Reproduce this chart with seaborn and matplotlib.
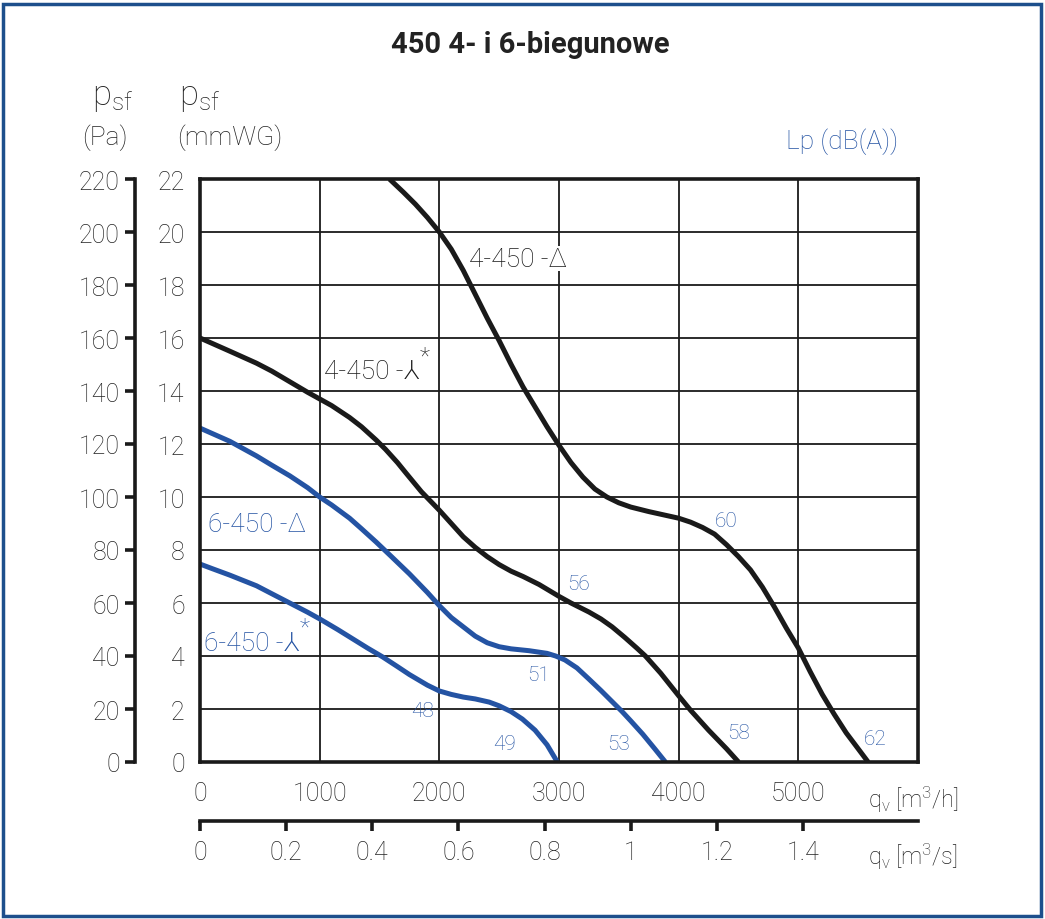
import matplotlib
matplotlib.use("Agg")
import matplotlib.pyplot as plt
import seaborn as sns
from matplotlib.patches import Rectangle

# pressure curves: flow q [m3/h], static pressure p [mmWG]
q_4d = [1583, 1700, 1800, 1900, 2000, 2100, 2200, 2300, 2400, 2500, 2600, 2700,
        2800, 2900, 3000, 3100, 3200, 3300, 3400, 3500, 3600, 3750, 3900, 4000,
        4100, 4200, 4300, 4400, 4500, 4600, 4700, 4800, 4900, 5000, 5100, 5200,
        5300, 5400, 5500, 5583]
p_4d = [22.0, 21.5, 21.05, 20.55, 20.0, 19.35, 18.55, 17.65, 16.75, 15.9, 15.0, 14.15,
        13.4, 12.65, 11.95, 11.3, 10.75, 10.3, 10.0, 9.78, 9.62, 9.45, 9.3, 9.2,
        9.05, 8.85, 8.6, 8.2, 7.75, 7.25, 6.6, 5.85, 5.05, 4.3, 3.4, 2.55,
        1.8, 1.1, 0.5, 0.0]

q_4y = [0, 100, 250, 472, 600, 750, 900, 1000, 1100, 1250, 1350, 1472, 1550, 1650,
        1722, 1850, 2000, 2100, 2200, 2300, 2400, 2500, 2600, 2700, 2833, 3000,
        3100, 3250, 3350, 3444, 3550, 3650, 3722, 3850, 4000, 4100, 4250, 4400, 4500]
p_4y = [16.0, 15.8, 15.5, 15.05, 14.75, 14.35, 13.95, 13.7, 13.45, 13.0, 12.65,
        12.15, 11.8, 11.3, 10.9, 10.2, 9.5, 9.0, 8.5, 8.1, 7.75, 7.45, 7.2, 7.0,
        6.7, 6.25, 6.0, 5.66, 5.4, 5.1, 4.7, 4.3, 4.0, 3.35, 2.5, 1.95, 1.2, 0.5, 0.0]

q_6d = [0, 100, 250, 472, 600, 750, 900, 1000, 1100, 1250, 1350, 1472, 1600, 1750,
        1900, 2000, 2100, 2200, 2300, 2400, 2500, 2600, 2750, 2900, 2972, 3050,
        3150, 3250, 3350, 3450, 3528, 3600, 3700, 3800, 3889]
p_6d = [12.6, 12.4, 12.1, 11.55, 11.2, 10.8, 10.35, 10.0, 9.7, 9.2, 8.8, 8.3, 7.75,
        7.1, 6.4, 5.9, 5.45, 5.1, 4.75, 4.5, 4.35, 4.27, 4.2, 4.1, 4.0, 3.85,
        3.55, 3.13, 2.7, 2.25, 1.9, 1.55, 1.05, 0.5, 0.0]

q_6y = [0, 100, 250, 472, 600, 750, 900, 1000, 1150, 1250, 1400, 1528, 1650, 1750,
        1900, 2000, 2100, 2200, 2300, 2417, 2500, 2600, 2694, 2800, 2900, 2986]
p_6y = [7.47, 7.3, 7.05, 6.65, 6.35, 6.0, 5.65, 5.4, 5.0, 4.72, 4.3, 3.96, 3.6, 3.3,
        2.9, 2.68, 2.55, 2.45, 2.38, 2.26, 2.12, 1.9, 1.62, 1.2, 0.65, 0.0]

# sound level labels Lp dB(A)
lp_text = ["60", "56", "51", "48", "49", "53", "58", "62"]
lp_q = [4400, 3167, 2833, 1858, 2542, 3500, 4500, 5642]
lp_p = [9.1, 6.75, 3.3, 1.96, 0.68, 0.68, 1.13, 0.9]

curve_names = ["4-450 -\u0394", "4-450 -\u2144", "6-450 -\u0394", "6-450 -\u2144"]
curve_star = [False, True, False, True]
name_q = [2250, 1035, 67, 30]
name_p = [19.0, 14.75, 8.98, 4.5]

x_ticks = [0, 1000, 2000, 3000, 4000, 5000]
y_ticks = list(range(0, 23, 2))
pa_ticks = list(range(0, 221, 20))
s_ticks = [0, 0.2, 0.4, 0.6, 0.8, 1, 1.2, 1.4]

BLACK = "#1a1a1a"
TXT = "#222222"
BLUE = "#2453a3"
FRAME = "#1d4f8c"

sns.set_style("white")
plt.rcParams["font.family"] = ["Roboto", "DejaVu Sans"]
plt.rcParams["font.weight"] = "light"
plt.rcParams["mathtext.fontset"] = "custom"
plt.rcParams["mathtext.rm"] = "Roboto:light"
plt.rcParams["mathtext.it"] = "Roboto:light"

fig = plt.figure(figsize=(10.45, 9.2), dpi=100)
ax = fig.add_axes([200 / 1045, 1 - 763 / 920, 718 / 1045, 583 / 920])

lw_curve = 3.6
for qs, ps, col in [(q_4d, p_4d, BLACK), (q_4y, p_4y, BLACK),
                    (q_6d, p_6d, BLUE), (q_6y, p_6y, BLUE)]:
    sns.lineplot(x=qs, y=ps, color=col, lw=lw_curve, ax=ax, sort=False,
                 solid_joinstyle="round", solid_capstyle="butt")

ax.set_xlim(0, 6000)
ax.set_ylim(0, 22)
ax.set_xticks(x_ticks)
ax.set_yticks(y_ticks)
ax.grid(True, color=BLACK, lw=1.3)
for sp in ax.spines.values():
    sp.set_visible(True)
    sp.set_linewidth(2.6)
    sp.set_color(BLACK)
ax.tick_params(axis="both", which="major", length=7, width=2.6, color=BLACK,
               labelsize=18, labelcolor=TXT, pad=4)
ax.tick_params(axis="x", pad=7)
ax.set_xlabel("")
ax.set_ylabel("")

# Pa axis on the far left
ax_pa = ax.secondary_yaxis(-0.0905, functions=(lambda v: v * 10, lambda v: v / 10))
ax_pa.set_yticks(pa_ticks)
ax_pa.spines["left"].set_linewidth(2.6)
ax_pa.spines["left"].set_color(BLACK)
ax_pa.tick_params(length=7, width=2.6, color=BLACK, labelsize=18,
                  labelcolor=TXT, pad=4)

# m3/s axis below
ax_s = ax.secondary_xaxis(-0.101, functions=(lambda v: v / 3600, lambda v: v * 3600))
ax_s.set_xticks(s_ticks)
ax_s.set_xticklabels([f"{t:g}" for t in s_ticks])
ax_s.spines["bottom"].set_linewidth(2.6)
ax_s.spines["bottom"].set_color(BLACK)
ax_s.tick_params(length=7, width=2.6, color=BLACK, labelsize=18,
                 labelcolor=TXT, pad=7)

for txt, star, qx, py, col in zip(curve_names, curve_star, name_q, name_p,
                                  [BLACK, BLACK, BLUE, BLUE]):
    t = ax.text(qx, py, txt, color=col, fontsize=19, ha="left", va="center",
                family=["Roboto", "DejaVu Sans"],
                bbox=dict(boxstyle="square,pad=0.02", fc="white", ec="none"))
    if star:
        ax.annotate("*", xy=(1, 1), xycoords=t, xytext=(0, -6),
                    textcoords="offset points", ha="left", va="bottom",
                    fontsize=17, color=col)

for txt, qx, py in zip(lp_text, lp_q, lp_p):
    ax.text(qx, py, txt, color=BLUE, fontsize=15, ha="center", va="center")

# titles and axis captions
fig.text(530 / 1045, 1 - 45 / 920, "450 4- i 6-biegunowe", ha="center", va="center",
         fontsize=21, fontweight="bold", color=TXT)
fig.text(113 / 1045, 1 - 97 / 920, "p$_{\\mathrm{sf}}$", ha="center", va="center",
         fontsize=25, color=TXT)
fig.text(105 / 1045, 1 - 138 / 920, "(Pa)", ha="center", va="center",
         fontsize=19, color=TXT)
fig.text(200 / 1045, 1 - 97 / 920, "p$_{\\mathrm{sf}}$", ha="center", va="center",
         fontsize=25, color=TXT)
fig.text(177 / 1045, 1 - 138 / 920, "(mmWG)", ha="left", va="center",
         fontsize=19, color=TXT)
fig.text(842 / 1045, 1 - 142 / 920, "Lp (dB(A))", ha="center", va="center",
         fontsize=19, color=BLUE)
fig.text(868 / 1045, 1 - 800 / 920, "q$_{\\mathrm{v}}$ [m$^{3}$/h]", ha="left",
         va="center", fontsize=17, color=TXT)
fig.text(868 / 1045, 1 - 857 / 920, "q$_{\\mathrm{v}}$ [m$^{3}$/s]", ha="left",
         va="center", fontsize=17, color=TXT)

fig.patches.append(Rectangle((3 / 1045, 3 / 920), 1038 / 1045, 912 / 920,
                             transform=fig.transFigure, fill=False,
                             ec=FRAME, lw=2.5))

fig.savefig("out.png", dpi=100)
